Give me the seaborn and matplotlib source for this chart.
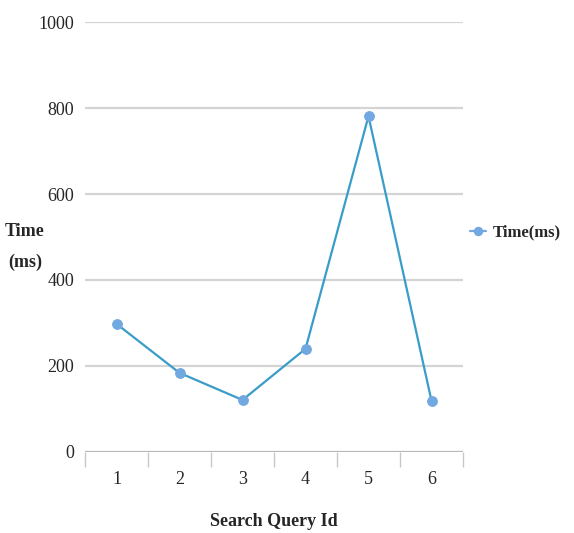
import matplotlib
matplotlib.use("Agg")
import matplotlib.pyplot as plt
import numpy as np
import pandas as pd
import seaborn as sns

query_ids = [1, 2, 3, 4, 5, 6]
time_ms = [298, 184, 121, 240, 781, 119]
y_ticks = [0, 200, 400, 600, 800, 1000]

line_color = "#3a9cc8"
marker_color = "#72a8e0"
grid_color = "#d4d4d4"

sns.set_theme(style="white")
plt.rcParams['font.family'] = ['Liberation Serif', 'DejaVu Serif']

df = pd.DataFrame({"Search Query Id": query_ids, "Time(ms)": time_ms})

fig = plt.figure(figsize=(5.74, 5.33), dpi=100)
ax = fig.add_axes([85 / 574, 81 / 533, 378 / 574, 430 / 533])

# gridlines drawn as horizontal lines so the 0 line can be darker
for t in y_ticks[1:]:
    ax.axhline(t, color=grid_color, lw=1.6, zorder=0)
ax.axhline(0, color="#b8b8b8", lw=1.6, zorder=1)

sns.lineplot(data=df, x="Search Query Id", y="Time(ms)", ax=ax,
             color=line_color, lw=1.6, marker="o", markersize=7,
             markerfacecolor=marker_color, markeredgecolor=marker_color,
             label="Time(ms)", zorder=3)

ax.set_xlim(0.5, 6.5)
ax.set_ylim(0, 1000)
ax.set_yticks(y_ticks)
ax.set_yticklabels([str(t) for t in y_ticks], fontsize=13)
ax.set_xticks(query_ids)
ax.set_xticklabels([str(q) for q in query_ids], fontsize=13)
ax.set_xticks(np.arange(0.5, 7.0, 1.0), minor=True)
ax.tick_params(axis="x", which="major", bottom=False, length=0, pad=14)
ax.tick_params(axis="x", which="minor", bottom=True, length=11, width=1,
               color="#c8c8c8", direction="out")
ax.tick_params(axis="y", length=0, pad=8)

for s in ax.spines.values():
    s.set_visible(False)

ax.set_xlabel("Search Query Id", fontsize=13, fontweight="bold", labelpad=18)
ax.set_ylabel("")
fig.text(25 / 574, 1 - 247 / 533, "Time\n(ms)", fontsize=13, fontweight="bold",
         ha="center", va="center", linespacing=2.0)

leg = ax.legend(loc="center left", bbox_to_anchor=(1.0, 0.51), frameon=False,
                handlelength=1.0, handletextpad=0.4, borderaxespad=0,
                prop={"size": 12, "weight": "bold"})
for h in leg.legend_handles:
    h.set_color(marker_color)
    h.set_markersize(6)

fig.savefig("out.png", dpi=100)
